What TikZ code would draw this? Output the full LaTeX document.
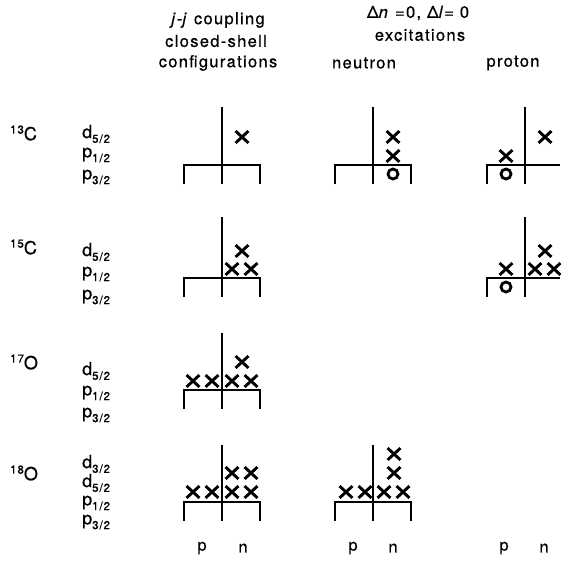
\documentclass[tikz,border=0pt]{standalone}
\usepackage{fontspec}
\setmainfont{TeX Gyre Heros}[LetterSpace=8,FakeBold=0.6]
\usetikzlibrary{shapes.misc}
\newcommand{\lvl}[2]{#1\raisebox{-0.5ex}{\fontsize{11.5}{12}\selectfont #2}}
\newcommand{\iso}[2]{\raisebox{0.7ex}{\fontsize{11.5}{12}\selectfont #1}#2}
\newcommand{\shellframe}[3]{%
  \draw[shl] ({#1-38},{#2+19}) -- ({#1-38},#2) -- ({#1+38},#2) -- ({#1+38},{#2+19});
  \draw[shl] (#1,#3) -- (#1,{#2+19});}
\begin{document}
\begin{tikzpicture}[x=1pt,y=-1pt,
  hd/.style={font=\fontsize{16.5}{18}\selectfont, inner sep=0pt},
  lv/.style={font=\fontsize{18}{20}\selectfont, inner sep=0pt, anchor=west},
  isol/.style={font=\fontsize{18}{20}\selectfont, inner sep=0pt, anchor=west},
  xm/.style={cross out, draw, line width=2.9pt, minimum width=10pt, minimum height=9pt, inner sep=0pt},
  om/.style={circle, draw, line width=2.8pt, minimum size=10pt, inner sep=0pt},
  shl/.style={line width=1.5pt}]
\useasboundingbox (0,0) rectangle (560,564);

% headers
\node[hd] (h1) at (218,20) {\textit{j}-\textit{j} coupling};
\node[hd] (h2) at (216,41) {closed-shell};
\node[hd] (h3) at (218,63) {configurations};
\node[hd] (h4) at (418,13) {Δ\textit{n} =0, Δ\textit{l}= 0};
\node[hd] (h5) at (420,35) {excitations};
\node[hd] (h6) at (364,63) {neutron};
\node[hd] (h7) at (513,63) {proton};

% isotope labels
\node[isol] (i1) at (10,133) {\iso{13}{C}};
\node[isol] (i2) at (10,247) {\iso{15}{C}};
\node[isol] (i3) at (10,362) {\iso{17}{O}};
\node[isol] (i4) at (10,473) {\iso{18}{O}};

% level labels
\node[lv] (a1) at (82,134) {\lvl{d}{5/2}};
\node[lv] (a2) at (82,155) {\lvl{p}{1/2}};
\node[lv] (a3) at (82,177) {\lvl{p}{3/2}};
\node[lv] (b1) at (82,252) {\lvl{d}{5/2}};
\node[lv] (b2) at (82,274) {\lvl{p}{1/2}};
\node[lv] (b3) at (82,297) {\lvl{p}{3/2}};
\node[lv] (c1) at (82,371) {\lvl{d}{5/2}};
\node[lv] (c2) at (82,393) {\lvl{p}{1/2}};
\node[lv] (c3) at (82,415) {\lvl{p}{3/2}};
\node[lv] (d0) at (82,464) {\lvl{d}{3/2}};
\node[lv] (d1) at (82,483) {\lvl{d}{5/2}};
\node[lv] (d2) at (82,503) {\lvl{p}{1/2}};
\node[lv] (d3) at (82,522) {\lvl{p}{3/2}};

% bottom p n
\node[hd] (p1) at (202,548) {p};
\node[hd] (n1) at (243,548) {n};
\node[hd] (p2) at (353,548) {p};
\node[hd] (n2) at (393,548) {n};
\node[hd] (p3) at (504,548) {p};
\node[hd] (n3) at (544,548) {n};

% row 1: 13C
\shellframe{222}{165}{107}
\shellframe{373}{165}{107}
\draw[shl] (487,184) -- (487,165) -- (560,165);
\draw[shl] (525,107) -- (525,184);
\node[xm] (r1a) at (242,137) {};
\node[xm] (r1b) at (393,156) {};
\node[xm] (r1c) at (393,137) {};
\node[om] (r1d) at (393,174) {};
\node[xm] (r1e) at (506,156) {};
\node[om] (r1f) at (506,174) {};
\node[xm] (r1g) at (545,137) {};

% row 2: 15C
\shellframe{222}{278}{217}
\draw[shl] (487,297) -- (487,278) -- (560,278);
\draw[shl] (525,217) -- (525,297);
\node[xm] (r2a) at (232,269) {};
\node[xm] (r2b) at (251,269) {};
\node[xm] (r2c) at (242,251) {};
\node[xm] (r2d) at (506,269) {};
\node[om] (r2e) at (506,287) {};
\node[xm] (r2f) at (535,269) {};
\node[xm] (r2g) at (554,269) {};
\node[xm] (r2h) at (545,251) {};

% row 3: 17O
\shellframe{222}{390}{333}
\node[xm] (r3a) at (193,381) {};
\node[xm] (r3b) at (212,381) {};
\node[xm] (r3c) at (232,381) {};
\node[xm] (r3d) at (251,381) {};
\node[xm] (r3e) at (242,362) {};

% row 4: 18O
\shellframe{222}{502}{445}
\shellframe{373}{502}{445}
\node[xm] (r4a) at (193,492) {};
\node[xm] (r4b) at (212,492) {};
\node[xm] (r4c) at (232,492) {};
\node[xm] (r4d) at (251,492) {};
\node[xm] (r4e) at (232,473) {};
\node[xm] (r4f) at (251,473) {};
\node[xm] (r4g) at (346,492) {};
\node[xm] (r4h) at (365,492) {};
\node[xm] (r4i) at (384,492) {};
\node[xm] (r4j) at (403,492) {};
\node[xm] (r4k) at (394,473) {};
\node[xm] (r4l) at (394,454) {};
\end{tikzpicture}
\end{document}
